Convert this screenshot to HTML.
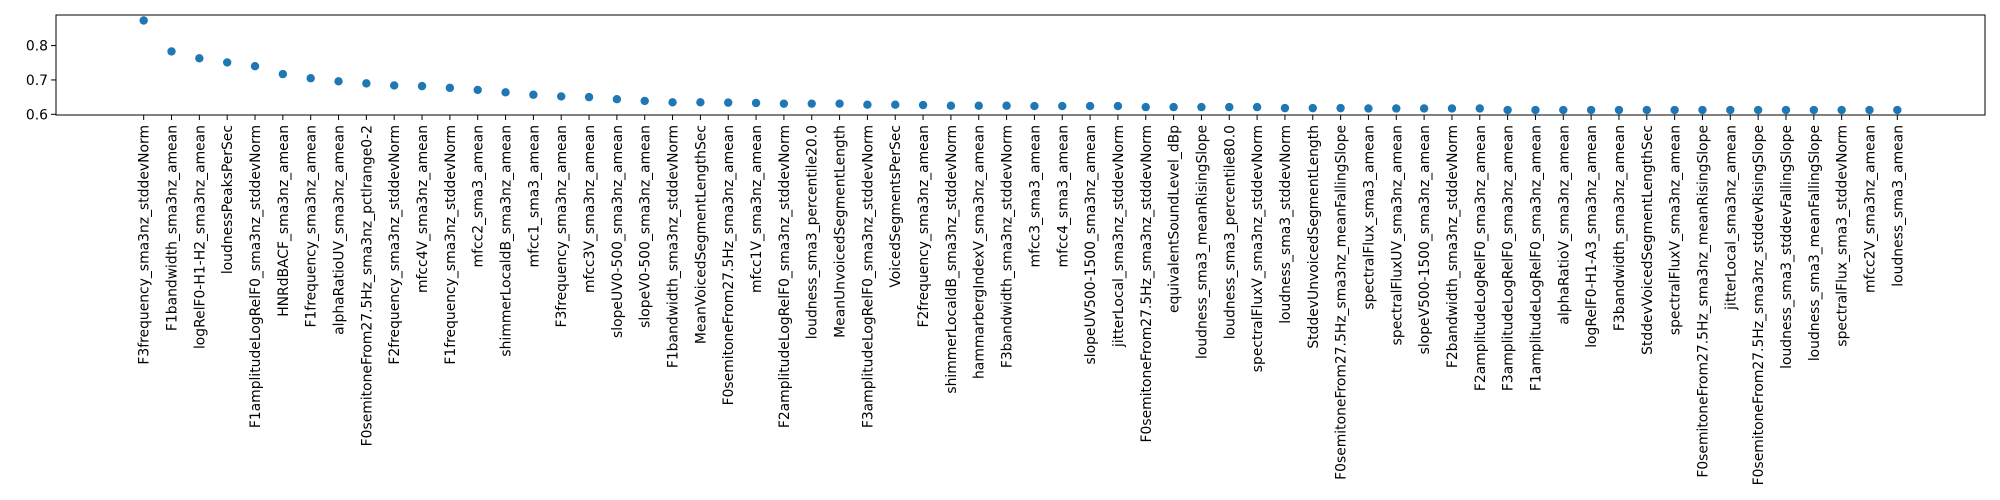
<!DOCTYPE html>
<html><head><meta charset="utf-8"><style>
html,body{margin:0;padding:0;background:#fff;}
svg{display:block;font-family:"DejaVu Sans","Liberation Sans",sans-serif;}
</style></head><body>
<svg id="chart" width="2000" height="500" viewBox="0 0 2000 500" xmlns="http://www.w3.org/2000/svg">
<rect x="0" y="0" width="2000" height="500" fill="#fff"/>
<g id="marks"></g>
<g id="xaxis"></g>
<g id="yaxis"></g>
<rect x="56" y="15" width="1929" height="100" fill="none" stroke="#000" stroke-width="1"/>
</svg>
<script>
const categories = ["F3frequency_sma3nz_stddevNorm","F1bandwidth_sma3nz_amean","logRelF0-H1-H2_sma3nz_amean","loudnessPeaksPerSec","F1amplitudeLogRelF0_sma3nz_stddevNorm","HNRdBACF_sma3nz_amean","F1frequency_sma3nz_amean","alphaRatioUV_sma3nz_amean","F0semitoneFrom27.5Hz_sma3nz_pctlrange0-2","F2frequency_sma3nz_stddevNorm","mfcc4V_sma3nz_amean","F1frequency_sma3nz_stddevNorm","mfcc2_sma3_amean","shimmerLocaldB_sma3nz_amean","mfcc1_sma3_amean","F3frequency_sma3nz_amean","mfcc3V_sma3nz_amean","slopeUV0-500_sma3nz_amean","slopeV0-500_sma3nz_amean","F1bandwidth_sma3nz_stddevNorm","MeanVoicedSegmentLengthSec","F0semitoneFrom27.5Hz_sma3nz_amean","mfcc1V_sma3nz_amean","F2amplitudeLogRelF0_sma3nz_stddevNorm","loudness_sma3_percentile20.0","MeanUnvoicedSegmentLength","F3amplitudeLogRelF0_sma3nz_stddevNorm","VoicedSegmentsPerSec","F2frequency_sma3nz_amean","shimmerLocaldB_sma3nz_stddevNorm","hammarbergIndexV_sma3nz_amean","F3bandwidth_sma3nz_stddevNorm","mfcc3_sma3_amean","mfcc4_sma3_amean","slopeUV500-1500_sma3nz_amean","jitterLocal_sma3nz_stddevNorm","F0semitoneFrom27.5Hz_sma3nz_stddevNorm","equivalentSoundLevel_dBp","loudness_sma3_meanRisingSlope","loudness_sma3_percentile80.0","spectralFluxV_sma3nz_stddevNorm","loudness_sma3_stddevNorm","StddevUnvoicedSegmentLength","F0semitoneFrom27.5Hz_sma3nz_meanFallingSlope","spectralFlux_sma3_amean","spectralFluxUV_sma3nz_amean","slopeV500-1500_sma3nz_amean","F2bandwidth_sma3nz_stddevNorm","F2amplitudeLogRelF0_sma3nz_amean","F3amplitudeLogRelF0_sma3nz_amean","F1amplitudeLogRelF0_sma3nz_amean","alphaRatioV_sma3nz_amean","logRelF0-H1-A3_sma3nz_amean","F3bandwidth_sma3nz_amean","StddevVoicedSegmentLengthSec","spectralFluxV_sma3nz_amean","F0semitoneFrom27.5Hz_sma3nz_meanRisingSlope","jitterLocal_sma3nz_amean","F0semitoneFrom27.5Hz_sma3nz_stddevRisingSlope","loudness_sma3_stddevFallingSlope","loudness_sma3_meanFallingSlope","spectralFlux_sma3_stddevNorm","mfcc2V_sma3nz_amean","loudness_sma3_amean"];
const values = [0.873,0.783,0.763,0.751,0.740,0.717,0.705,0.696,0.690,0.684,0.682,0.677,0.671,0.664,0.657,0.652,0.650,0.644,0.639,0.635,0.635,0.634,0.633,0.631,0.631,0.631,0.628,0.628,0.627,0.625,0.625,0.625,0.624,0.624,0.624,0.624,0.621,0.621,0.621,0.621,0.621,0.618,0.618,0.618,0.617,0.617,0.617,0.617,0.617,0.6125,0.6125,0.6125,0.6125,0.6125,0.6125,0.6125,0.6125,0.6125,0.6125,0.6125,0.6125,0.6125,0.6125,0.6125];
const yTicks = [0.6, 0.7, 0.8];
const yTickLabels = ["0.6", "0.7", "0.8"];

const NS = "http://www.w3.org/2000/svg";
const L = 56, R = 1985, T = 15, B = 115;
const n = categories.length;
const xmin = -0.05 * (n - 1), xmax = (n - 1) * 1.05;
function xScale(i) { return L + (i - xmin) / (xmax - xmin) * (R - L); }
const vmin = 0.598, vmax = 0.889;
function yScale(v) { return B - (v - vmin) / (vmax - vmin) * (B - T); }

const marks = document.getElementById('marks');
const xaxis = document.getElementById('xaxis');
const yaxis = document.getElementById('yaxis');

values.forEach((v, i) => {
  const c = document.createElementNS(NS, 'ellipse');
  c.setAttribute('cx', xScale(i));
  c.setAttribute('cy', yScale(v));
  c.setAttribute('rx', 4.2);
  c.setAttribute('ry', 4.2);
  c.setAttribute('fill', '#1f77b4');
  
  
  marks.appendChild(c);
});

categories.forEach((lab, i) => {
  const x = xScale(i);
  const t = document.createElementNS(NS, 'line');
  t.setAttribute('x1', x); t.setAttribute('x2', x);
  t.setAttribute('y1', B); t.setAttribute('y2', B + 5);
  t.setAttribute('stroke', '#000');
  
  
  xaxis.appendChild(t);
  const tx = document.createElementNS(NS, 'text');
  tx.setAttribute('transform', 'translate(' + (x + 5) + ',' + 125 + ') rotate(-90)');
  tx.setAttribute('text-anchor', 'end');
  tx.setAttribute('font-size', '13.9');
  tx.setAttribute('fill', '#000');
  tx.textContent = lab;
  
  
  xaxis.appendChild(tx);
});

yTicks.forEach((v, i) => {
  const y = yScale(v);
  const t = document.createElementNS(NS, 'line');
  t.setAttribute('x1', L - 5); t.setAttribute('x2', L);
  t.setAttribute('y1', y); t.setAttribute('y2', y);
  t.setAttribute('stroke', '#000');
  
  
  yaxis.appendChild(t);
  const tx = document.createElementNS(NS, 'text');
  tx.setAttribute('x', L - 8);
  tx.setAttribute('y', y + 5);
  tx.setAttribute('text-anchor', 'end');
  tx.setAttribute('font-size', '13.9');
  tx.setAttribute('fill', '#000');
  tx.textContent = yTickLabels[i];
  
  
  yaxis.appendChild(tx);
});
</script>
</body></html>
